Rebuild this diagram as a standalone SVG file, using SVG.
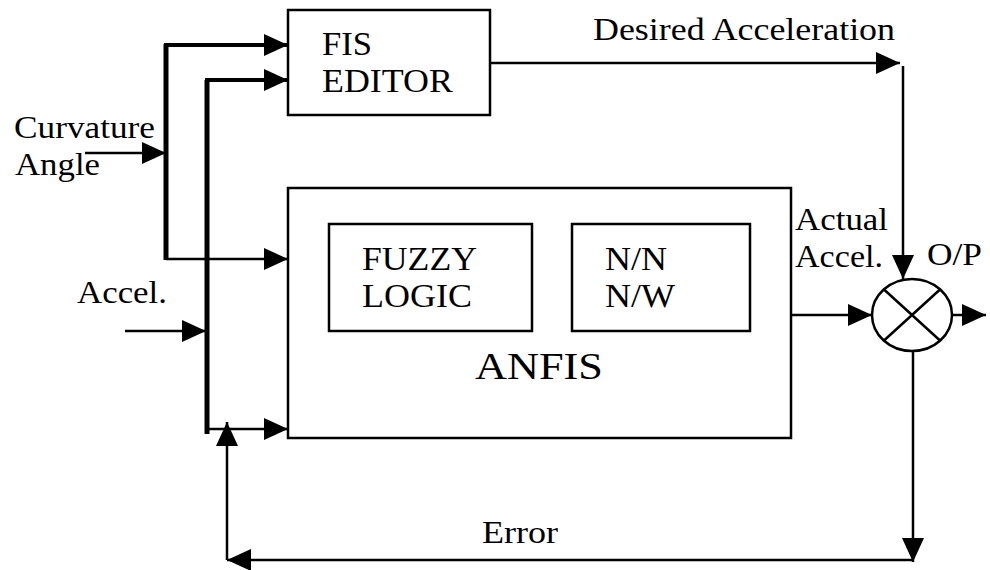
<svg xmlns="http://www.w3.org/2000/svg" width="990" height="570" viewBox="0 0 990 570">
<style>
.box{fill:#fff;stroke:#000;stroke-width:2.5}
.ln{fill:none;stroke:#000;stroke-width:2.5}
.thick{fill:none;stroke:#000;stroke-width:5}
.t{font-family:"Liberation Serif","Times New Roman",serif;font-size:32px;fill:#000}
.b{font-size:33px}
.arr{marker-end:url(#ah)}
</style>
<defs>
<marker id="ah" viewBox="0 0 24 22" refX="24" refY="11" markerWidth="24" markerHeight="22" markerUnits="userSpaceOnUse" orient="auto">
<path d="M0 0 L24 11 L0 22 z" fill="#000"/>
</marker>
</defs>
<rect width="990" height="570" fill="#fff"/>
<g id="connectors">
<path class="thick" d="M166 44 V260"/>
<path class="thick" d="M207 80 V434"/>
<path class="ln arr" style="stroke-width:4" d="M164 45 H288"/>
<path class="ln arr" style="stroke-width:4" d="M205 80 H288"/>
<path class="ln arr" d="M166 259 H288"/>
<path class="ln arr" d="M207 429 H288"/>
<path class="ln arr" d="M85 153 H166"/>
<path class="ln arr" d="M125 331 H206"/>
<path class="ln arr" d="M490 63 H900"/>
<path class="ln arr" d="M903 66 V279"/>
<path class="ln arr" d="M791 315 H872"/>
<path class="ln arr" d="M952 315 H986"/>
<path class="ln arr" d="M913 351 V562"/>
<path class="ln arr" d="M913 560 H227"/>
<path class="ln arr" d="M227 560 V422"/>
</g>
<g id="fis-editor">
<rect class="box" x="288" y="10" width="202" height="105"/>
<text class="t b" x="322" y="55" textLength="50" lengthAdjust="spacingAndGlyphs">FIS</text>
<text class="t b" x="322" y="92" textLength="131" lengthAdjust="spacingAndGlyphs">EDITOR</text>
</g>
<g id="anfis">
<rect class="box" x="288" y="188" width="503" height="250"/>
<text class="t" x="475" y="379" style="font-size:37px" textLength="128" lengthAdjust="spacingAndGlyphs">ANFIS</text>
</g>
<g id="fuzzy-logic">
<rect class="box" x="329" y="224" width="203" height="107"/>
<text class="t b" x="362" y="270" textLength="115" lengthAdjust="spacingAndGlyphs">FUZZY</text>
<text class="t b" x="362" y="307" textLength="110" lengthAdjust="spacingAndGlyphs">LOGIC</text>
</g>
<g id="nn-nw">
<rect class="box" x="572" y="224" width="178" height="107"/>
<text class="t b" x="605" y="270" textLength="62" lengthAdjust="spacingAndGlyphs">N/N</text>
<text class="t b" x="605" y="307" textLength="70" lengthAdjust="spacingAndGlyphs">N/W</text>
</g>
<g id="sum">
<ellipse cx="912" cy="315" rx="40" ry="36" fill="#fff" stroke="#000" stroke-width="2.5"/>
<path class="ln" d="M884 289.5 L940 340.5 M940 289.5 L884 340.5"/>
</g>
<g id="labels">
<text class="t" x="14" y="138" textLength="141" lengthAdjust="spacingAndGlyphs">Curvature</text>
<text class="t" x="15" y="175" textLength="85" lengthAdjust="spacingAndGlyphs">Angle</text>
<text class="t" x="77" y="303" textLength="90" lengthAdjust="spacingAndGlyphs">Accel.</text>
<text class="t" x="593" y="40" textLength="302" lengthAdjust="spacingAndGlyphs">Desired Acceleration</text>
<text class="t" x="795" y="230" textLength="93" lengthAdjust="spacingAndGlyphs">Actual</text>
<text class="t" x="795" y="267" textLength="88" lengthAdjust="spacingAndGlyphs">Accel.</text>
<text class="t" x="927" y="265" textLength="55" lengthAdjust="spacingAndGlyphs">O/P</text>
<text class="t" x="482" y="543" textLength="76" lengthAdjust="spacingAndGlyphs">Error</text>
</g>
</svg>
